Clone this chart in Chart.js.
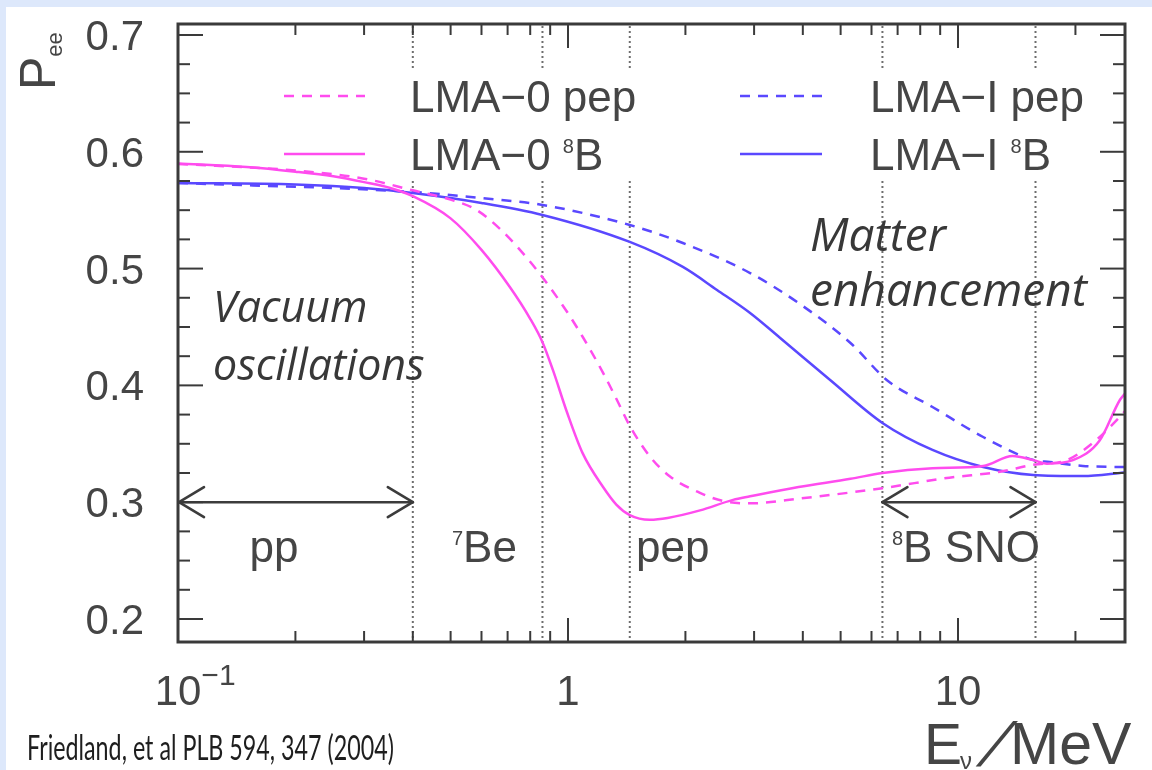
<!DOCTYPE html>
<html><head><meta charset="utf-8">
<script src="https://cdn.jsdelivr.net/npm/chart.js@4.4.1/dist/chart.umd.min.js"></script>
<style>
html,body{margin:0;padding:0;background:#dde8fb;overflow:hidden}
#c{position:absolute;left:0;top:0}
</style></head><body>
<canvas id="c" width="1152" height="770"></canvas>
<script>
// ---------- data ----------
const lma0B_E = [0.1, 0.15, 0.2, 0.25, 0.3, 0.35, 0.4, 0.5, 0.6, 0.71, 0.8, 0.86, 0.915, 0.994, 1.09, 1.23, 1.33, 1.44, 1.62, 1.8, 2.18, 2.65, 2.93, 3.9, 5.3, 6.4, 8.6, 11.6, 13.8, 15.6, 16.9, 19.7, 23.1, 26.0, 26.8];
const lma0B_P = [0.590, 0.587, 0.583, 0.579, 0.574, 0.569, 0.562, 0.543, 0.516, 0.484, 0.457, 0.437, 0.413, 0.377, 0.342, 0.313, 0.298, 0.289, 0.285, 0.2865, 0.293, 0.302, 0.305, 0.313, 0.320, 0.325, 0.329, 0.331, 0.3395, 0.336, 0.333, 0.336, 0.353, 0.3875, 0.393];

const lma0Pep_E = [0.1, 0.2, 0.3, 0.4, 0.5, 0.584, 0.669, 0.753, 0.858, 0.994, 1.093, 1.229, 1.335, 1.442, 1.623, 1.826, 2.18, 2.5, 2.93, 3.9, 6.4, 9.5, 12.8, 15.6, 19.0, 22.2, 26.0, 26.8];
const lma0Pep_P = [0.5896, 0.584, 0.577, 0.567, 0.559, 0.550, 0.534, 0.516, 0.493, 0.463, 0.441, 0.411, 0.3875, 0.365, 0.339, 0.322, 0.308, 0.301, 0.299, 0.303, 0.312, 0.321, 0.326, 0.332, 0.336, 0.351, 0.373, 0.378];

const lma1B_E = [0.1, 0.2, 0.3, 0.4, 0.6, 0.86, 1.44, 1.97, 2.41, 2.93, 3.5, 4.7, 6.4, 8.6, 11.6, 15.6, 20.9, 26.0, 26.8];
const lma1B_P = [0.5733, 0.572, 0.569, 0.5647, 0.5562, 0.5459, 0.5228, 0.5014, 0.4817, 0.462, 0.4406, 0.4046, 0.3678, 0.3447, 0.3301, 0.3233, 0.3224, 0.325, 0.3255];

const lma1Pep_E = [0.1, 0.4, 0.6, 0.86, 1.44, 1.97, 2.93, 3.9, 5.3, 6.6, 8.6, 11.6, 15.6, 17.2, 20.9, 26.0, 26.8];
const lma1Pep_P = [0.5733, 0.5656, 0.5604, 0.5545, 0.5373, 0.5219, 0.4962, 0.4705, 0.4363, 0.404, 0.3815, 0.3558, 0.3361, 0.3344, 0.331, 0.3301, 0.330];

const seriesLabels = ['LMA\u22120 pep', 'LMA\u22120 ', 'LMA\u2212I pep', 'LMA\u2212I '];

const xMajorTicks = [0.1, 1, 10];
const xMinorTicks = [0.2, 0.3, 0.4, 0.5, 0.6, 0.7, 0.8, 0.9, 2, 3, 4, 5, 6, 7, 8, 9, 20];
const yMajorTicks = [0.2, 0.3, 0.4, 0.5, 0.6, 0.7];
const yMinorTicks = [0.225, 0.25, 0.275, 0.325, 0.35, 0.375, 0.425, 0.45, 0.475, 0.525, 0.55, 0.575, 0.625, 0.65, 0.675];
const thresholdE = [0.4, 0.86, 1.44, 6.4, 15.8];   // dotted vertical lines (MeV)
const ppRange = [0.1, 0.4];
const snoRange = [6.4, 15.8];
const arrowP = 0.3;

// ---------- styles ----------
const MAGENTA = '#ff4cee';
const BLUE = '#5a48ff';
const TXT = '#454545';
const SANS = '"Liberation Sans", Arial, sans-serif';

function pts(E, P) { return E.map((e, i) => ({ x: e, y: P[i] })); }

function richText(ctx, parts, x, y) {
  let cx = x;
  for (const [t, size, dy, fam] of parts) {
    ctx.font = size + 'px ' + (fam || SANS);
    ctx.fillText(t, cx, y + dy);
    cx += ctx.measureText(t).width;
  }
  return cx;
}
function richWidth(ctx, parts) {
  let w = 0;
  for (const [t, size, dy, fam] of parts) { ctx.font = size + 'px ' + (fam || SANS); w += ctx.measureText(t).width; }
  return w;
}
function line(ctx, x1, y1, x2, y2) { ctx.beginPath(); ctx.moveTo(x1, y1); ctx.lineTo(x2, y2); ctx.stroke(); }
function arrow2(ctx, xa, xb, y) {
  ctx.save();
  ctx.strokeStyle = '#3c3c3c'; ctx.lineWidth = 2.6; ctx.lineCap = 'round';
  line(ctx, xa, y, xb, y);
  line(ctx, xa, y, xa + 25, y - 15); line(ctx, xa, y, xa + 25, y + 15);
  line(ctx, xb, y, xb - 25, y - 15); line(ctx, xb, y, xb - 25, y + 15);
  ctx.restore();
}

const rootPlugin = {
  id: 'rootStyle',
  beforeDraw(chart) {
    const ctx = chart.ctx;
    ctx.save();
    ctx.fillStyle = '#dde8fb'; ctx.fillRect(0, 0, chart.width, chart.height);
    ctx.fillStyle = '#ffffff'; ctx.fillRect(6, 7, chart.width - 6, chart.height - 7);
    ctx.restore();
  },
  beforeDatasetsDraw(chart) {
    const ctx = chart.ctx, xs = chart.scales.x, ys = chart.scales.y, a = chart.chartArea;
    ctx.save();
    // dotted threshold lines
    ctx.strokeStyle = '#6e6e6e'; ctx.lineWidth = 2; ctx.setLineDash([2, 3]);
    for (const e of thresholdE) { const px = xs.getPixelForValue(e); line(ctx, px, a.top + 2, px, a.bottom); }
    ctx.setLineDash([]);
    // legend box (white, hides the dotted lines)
    ctx.fillStyle = '#ffffff'; ctx.fillRect(272, 71, 840, 107);
    // legend entries
    const ds = chart.data.datasets;
    const rows = [96, 154];
    const sampX = [[284, 365], [740, 822]];
    const txtX = [410, 870];
    for (let i = 0; i < 4; i++) {
      const col = i < 2 ? 0 : 1, row = i % 2;
      ctx.strokeStyle = ds[i].borderColor; ctx.lineWidth = ds[i].borderWidth;
      ctx.setLineDash(ds[i].borderDash || []);
      line(ctx, sampX[col][0], rows[row], sampX[col][1], rows[row]);
      ctx.setLineDash([]);
      ctx.fillStyle = TXT; ctx.textAlign = 'left'; ctx.textBaseline = 'alphabetic';
      const parts = [[seriesLabels[i], 44, 0]];
      if (row === 1) { parts.push(['8', 20, -17]); parts.push(['B', 44, 0]); }
      richText(ctx, parts, txtX[col], rows[row] + 16);
    }
    // region labels
    ctx.fillStyle = TXT;
    ctx.font = '44px ' + SANS; ctx.textAlign = 'center';
    ctx.fillText('pp', 274, 562);
    ctx.textAlign = 'left';
    richText(ctx, [['7', 20, -17], ['Be', 44, 0]], 452, 562);
    ctx.font = '44px ' + SANS; ctx.fillText('pep', 636, 562);
    richText(ctx, [['8', 20, -17], ['B SNO', 44, 0]], 892, 562);
    // arrows
    arrow2(ctx, xs.getPixelForValue(ppRange[0]) + 1, xs.getPixelForValue(ppRange[1]), ys.getPixelForValue(arrowP));
    arrow2(ctx, xs.getPixelForValue(snoRange[0]), xs.getPixelForValue(snoRange[1]), ys.getPixelForValue(arrowP));
    // annotations
    ctx.fillStyle = '#383838';
    ctx.font = 'italic 43px "Open Sans", sans-serif';
    ctx.fillText('Vacuum', 213, 322);
    ctx.fillText('oscillations', 213, 380);
    ctx.font = 'italic 46px "Open Sans", sans-serif';
    ctx.fillText('Matter', 810, 251);
    ctx.fillText('enhancement', 810, 306);
    ctx.restore();
  },
  afterDatasetsDraw(chart) {
    const ctx = chart.ctx, xs = chart.scales.x, ys = chart.scales.y, a = chart.chartArea;
    ctx.save();
    ctx.strokeStyle = '#3a3a3a'; ctx.lineWidth = 2;
    for (const v of xMinorTicks) { const p = xs.getPixelForValue(v); line(ctx, p, a.bottom, p, a.bottom - 11); line(ctx, p, a.top, p, a.top + 11); }
    for (const v of xMajorTicks) { const p = xs.getPixelForValue(v); line(ctx, p, a.bottom, p, a.bottom - 24); line(ctx, p, a.top, p, a.top + 24); }
    for (const v of yMinorTicks) { const p = ys.getPixelForValue(v); line(ctx, a.left, p, a.left + 12, p); line(ctx, a.right, p, a.right - 12, p); }
    for (const v of yMajorTicks) { const p = ys.getPixelForValue(v); line(ctx, a.left, p, a.left + 25, p); line(ctx, a.right, p, a.right - 25, p); }
    ctx.lineWidth = 3;
    ctx.strokeRect(a.left, a.top, a.right - a.left, a.bottom - a.top);
    // y tick labels
    ctx.fillStyle = TXT; ctx.font = '42px ' + SANS; ctx.textAlign = 'right'; ctx.textBaseline = 'alphabetic';
    for (const v of yMajorTicks) ctx.fillText(v.toFixed(1), a.left - 34, ys.getPixelForValue(v) + 15);
    // x tick labels
    ctx.textAlign = 'left';
    for (const v of xMajorTicks) {
      const p = xs.getPixelForValue(v);
      const lg = Math.round(Math.log10(v));
      let parts;
      if (lg === 0) parts = [['1', 42, 0]];
      else if (lg === 1) parts = [['10', 42, 0]];
      else parts = [['10', 42, 0], ['\u2212' + (-lg), 30, -20]];
      const w0 = richWidth(ctx, [parts[0]]);
      richText(ctx, parts, p - w0 / 2, 705);
    }
    // x axis title  E_nu / MeV
    ctx.font = '57px ' + SANS; ctx.fillText('E', 924, 764);
    ctx.font = '24px ' + SANS; ctx.fillText('\u03bd', 960, 769);
    ctx.save();
    ctx.translate(976, 766); ctx.transform(1, 0, -0.55, 1, 0, 0);
    ctx.font = '62px ' + SANS; ctx.fillText('/', 0, 0);
    ctx.restore();
    ctx.font = '59px ' + SANS; ctx.fillText('MeV', 1010, 764);
    // y axis title P_ee
    ctx.save();
    ctx.translate(55, 90); ctx.rotate(-Math.PI / 2);
    richText(ctx, [['P', 50, 0], ['ee', 22, 7]], 0, 0);
    ctx.restore();
    // citation
    ctx.fillStyle = '#1e1e1e';
    ctx.font = '34px Lato, "Open Sans", sans-serif';
    ctx.fillText('Friedland, et al PLB 594, 347 (2004)', 27, 760, 367);
    ctx.restore();
  }
};

const dsBase = { pointRadius: 0, borderWidth: 2.5, fill: false, cubicInterpolationMode: 'monotone' };
new Chart(document.getElementById('c'), {
  type: 'line',
  data: {
    datasets: [
      Object.assign({ label: seriesLabels[0], data: pts(lma0Pep_E, lma0Pep_P), borderColor: MAGENTA, borderDash: [10, 8] }, dsBase),
      Object.assign({ label: seriesLabels[1], data: pts(lma0B_E, lma0B_P), borderColor: MAGENTA }, dsBase),
      Object.assign({ label: seriesLabels[2], data: pts(lma1Pep_E, lma1Pep_P), borderColor: BLUE, borderDash: [10, 8] }, dsBase),
      Object.assign({ label: seriesLabels[3], data: pts(lma1B_E, lma1B_P), borderColor: BLUE }, dsBase)
    ]
  },
  options: {
    responsive: false, animation: false, devicePixelRatio: 1,
    layout: { padding: { left: 178, top: 24, right: 27, bottom: 128 } },
    scales: {
      x: { type: 'logarithmic', min: 0.1, max: 26.8, display: false },
      y: { type: 'linear', min: 0.1803, max: 0.7094, display: false }
    },
    plugins: { legend: { display: false }, tooltip: { enabled: false } },
    events: []
  },
  plugins: [rootPlugin]
});
</script>
</body></html>
